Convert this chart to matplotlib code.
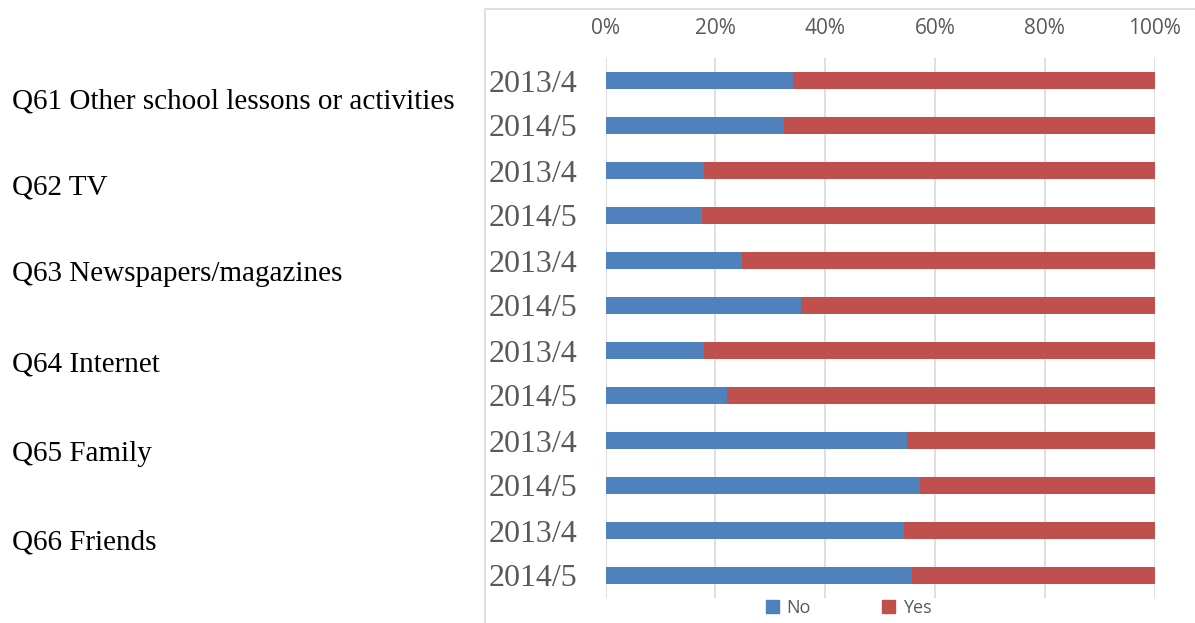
import matplotlib.pyplot as plt
import matplotlib.patches as mpatches
from matplotlib.transforms import blended_transform_factory
import numpy as np

# data (percent "No"; "Yes" is the rest up to 100%)
questions = ["Q61 Other school lessons or activities", "Q62 TV", "Q63 Newspapers/magazines",
             "Q64 Internet", "Q65 Family", "Q66 Friends"]
years = ["2013/4", "2014/5"]
no_pct = [34.2, 32.6, 18.0, 17.5, 24.8, 35.7, 17.9, 22.1, 55.0, 57.2, 54.3, 55.9]
yes_pct = [100 - v for v in no_pct]
ticks = [0, 20, 40, 60, 80, 100]

# where the free-standing question labels sit (in bar-row units)
q_rows = [0.47, 2.38, 4.31, 6.31, 8.31, 10.27]

blue = '#4F81BD'
red = '#C0504D'
grid_col = '#D9D9D9'
txt_grey = '#595959'

fig = plt.figure(figsize=(11.95, 6.23), dpi=100)
ax = fig.add_axes([605.5/1195, 1-598/623, 549/1195, 540/623])

# chart area border
fig.patches.append(mpatches.Rectangle((485/1195, -0.1), 1.0, 1-9/623+0.1, transform=fig.transFigure,
                                      fill=False, edgecolor=grid_col, lw=1.2, zorder=0))

labels = [years[i % 2] for i in range(len(no_pct))]
y = np.arange(len(no_pct))
ax.barh(y, no_pct, height=0.39, color=blue, label='No', zorder=3)
ax.barh(y, yes_pct, left=no_pct, height=0.39, color=red, label='Yes', zorder=3)

ax.set_xlim(0, 100)
ax.set_ylim(len(no_pct)-0.5, -0.5)
ax.set_xticks(ticks)
ax.set_xticklabels([f"{t}%" for t in ticks], fontfamily='Open Sans', fontsize=15, color=txt_grey)
ax.xaxis.tick_top()
ax.tick_params(axis='x', length=0, pad=14)
ax.set_yticks(y)
ax.set_yticklabels(labels, fontfamily='Liberation Serif', fontsize=23, color=txt_grey)
ax.tick_params(axis='y', length=0, pad=20)
for t in ticks:
    ax.axvline(t, color=grid_col, lw=1.2, zorder=1)
for s in ax.spines.values():
    s.set_visible(False)

# group labels on the left
tr = blended_transform_factory(fig.transFigure, ax.transData)
for q, r in zip(questions, q_rows):
    ax.text(12/1195, r, q, transform=tr, ha='left', va='center',
            fontfamily='Liberation Serif', fontsize=21, color='black')

handles = [mpatches.Patch(color=blue, label='No'), mpatches.Patch(color=red, label='Yes')]
leg = fig.legend(handles=handles, loc='center', bbox_to_anchor=(848.5/1195, 1-608/623), ncol=2,
                 frameon=False, handlelength=0.72, handleheight=0.72, handletextpad=0.4,
                 columnspacing=4.0, borderpad=0, prop={'family': 'Open Sans', 'size': 13})
for t in leg.get_texts():
    t.set_color(txt_grey)

fig.savefig('out.png', dpi=100)
